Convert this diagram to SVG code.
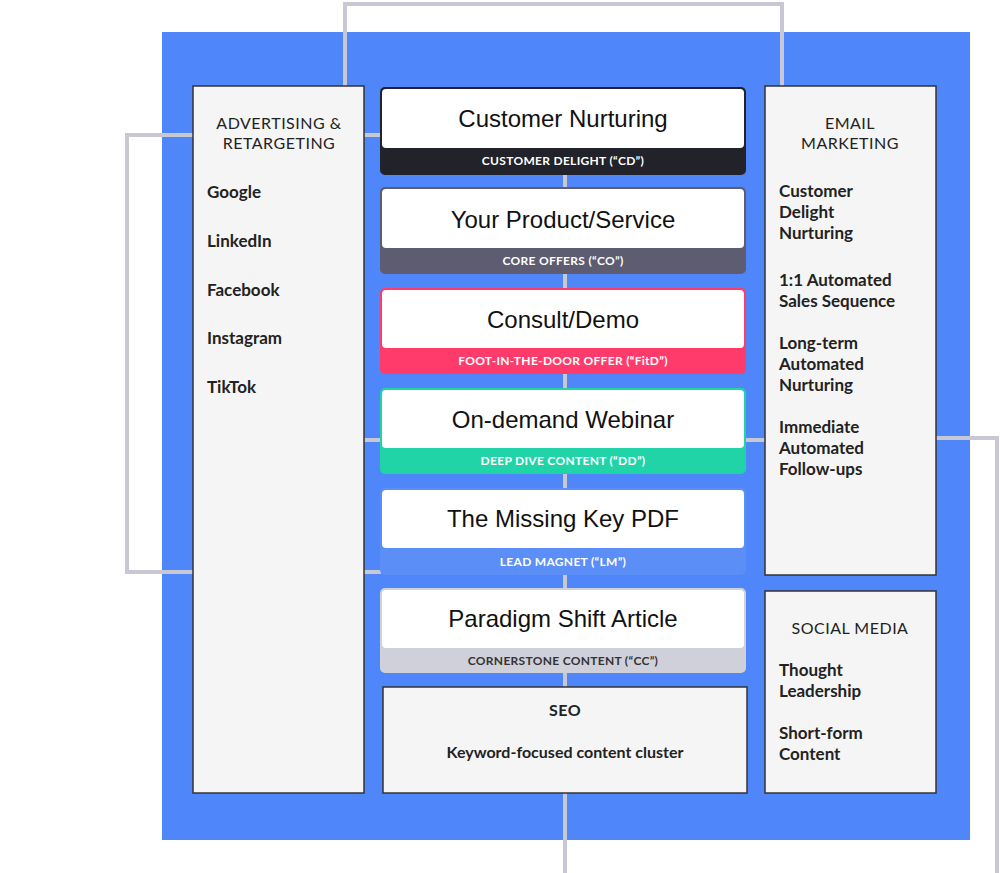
<svg xmlns="http://www.w3.org/2000/svg" width="1000" height="873" viewBox="0 0 1000 873">
<style>
.panel{fill:#f5f5f5;stroke:#333;stroke-width:1.5}
.card{fill:#fff}
.t{font-family:"Liberation Sans",Arial,sans-serif;font-size:24px;fill:#111;text-anchor:middle}
.b{font-family:Lato,"Open Sans",sans-serif;font-size:12px;font-weight:bold;fill:#fff;text-anchor:middle;letter-spacing:0.3px}
.h{font-family:Lato,"Open Sans",sans-serif;font-size:16px;fill:#222;text-anchor:middle;letter-spacing:0.5px}
.i{font-family:Lato,"Open Sans",sans-serif;font-size:17px;font-weight:bold;fill:#222}
.c{fill:none;stroke:#c8c8d4;stroke-width:4}
</style>
<rect x="162" y="32" width="808" height="808" fill="#4f87fb"/>
<g id="connectors">
<path class="c" d="M345 86V4H782V86"/>
<path class="c" d="M193 135H127V572H193"/>
<path class="c" d="M364 135H381M364 572H381M364 440H381M746 440H765"/>
<path class="c" d="M936 438H997V873"/>
<path class="c" d="M565 793V873"/>
<path class="c" d="M565 175V188M565 274V289M565 374V389M565 474V489M565 575V589M565 673V688" stroke-width="3"/>
</g>
<g id="advertising">
<rect class="panel" x="193" y="86" width="171" height="707"/>
<text class="h" x="279" y="129">ADVERTISING &amp;</text>
<text class="h" x="279" y="149">RETARGETING</text>
<text class="i" x="207" y="198">Google</text>
<text class="i" x="207" y="247">LinkedIn</text>
<text class="i" x="207" y="296">Facebook</text>
<text class="i" x="207" y="344">Instagram</text>
<text class="i" x="207" y="393">TikTok</text>
</g>
<g id="email">
<rect class="panel" x="765" y="86" width="171" height="489"/>
<text class="h" x="850" y="129">EMAIL</text>
<text class="h" x="850" y="149">MARKETING</text>
<text class="i" x="779" y="197">Customer</text>
<text class="i" x="779" y="218">Delight</text>
<text class="i" x="779" y="239">Nurturing</text>
<text class="i" x="779" y="286">1:1 Automated</text>
<text class="i" x="779" y="307">Sales Sequence</text>
<text class="i" x="779" y="349">Long-term</text>
<text class="i" x="779" y="370">Automated</text>
<text class="i" x="779" y="391">Nurturing</text>
<text class="i" x="779" y="433">Immediate</text>
<text class="i" x="779" y="454">Automated</text>
<text class="i" x="779" y="475">Follow-ups</text>
</g>
<g id="social">
<rect class="panel" x="765" y="591" width="171" height="202"/>
<text class="h" x="850" y="634">SOCIAL MEDIA</text>
<text class="i" x="779" y="676">Thought</text>
<text class="i" x="779" y="697">Leadership</text>
<text class="i" x="779" y="739">Short-form</text>
<text class="i" x="779" y="760">Content</text>
</g>
<g id="cd">
<rect x="380" y="87" width="366" height="88" rx="5" fill="#22222a"/>
<rect class="card" x="382" y="89" width="362" height="59" rx="4"/>
<text class="t" x="563" y="127">Customer Nurturing</text>
<text class="b" x="563" y="165">CUSTOMER DELIGHT (“CD”)</text>
</g>
<g id="co">
<rect x="380" y="187" width="366" height="87" rx="5" fill="#5d5c70"/>
<rect class="card" x="382" y="189" width="362" height="59" rx="4"/>
<text class="t" x="563" y="228">Your Product/Service</text>
<text class="b" x="563" y="265">CORE OFFERS (“CO”)</text>
</g>
<g id="fitd">
<rect x="380" y="288" width="366" height="86" rx="5" fill="#ff3b6b"/>
<rect class="card" x="382" y="290" width="362" height="58" rx="4"/>
<text class="t" x="563" y="328">Consult/Demo</text>
<text class="b" x="563" y="365">FOOT-IN-THE-DOOR OFFER (“FitD”)</text>
</g>
<g id="dd">
<rect x="380" y="388" width="366" height="86" rx="5" fill="#21d4a8"/>
<rect class="card" x="382" y="390" width="362" height="58" rx="4"/>
<text class="t" x="563" y="428">On-demand Webinar</text>
<text class="b" x="563" y="465">DEEP DIVE CONTENT (“DD”)</text>
</g>
<g id="lm">
<rect x="380" y="488" width="366" height="87" rx="5" fill="#5b8ef7"/>
<rect class="card" x="382" y="490" width="362" height="58" rx="4"/>
<text class="t" x="563" y="527">The Missing Key PDF</text>
<text class="b" x="563" y="566">LEAD MAGNET (“LM”)</text>
</g>
<g id="cc">
<rect x="380" y="588" width="366" height="85" rx="5" fill="#cfd0da"/>
<rect class="card" x="382" y="590" width="362" height="58" rx="4"/>
<text class="t" x="563" y="627">Paradigm Shift Article</text>
<text class="b" x="563" y="665" fill="#333" style="fill:#333">CORNERSTONE CONTENT (“CC”)</text>
</g>
<g id="seo">
<rect class="panel" x="383" y="687" width="364" height="106"/>
<text class="h" x="565" y="716" style="font-weight:bold;font-size:16px">SEO</text>
<text class="i" x="565" y="758" style="text-anchor:middle;font-size:16px">Keyword-focused content cluster</text>
</g>
</svg>
